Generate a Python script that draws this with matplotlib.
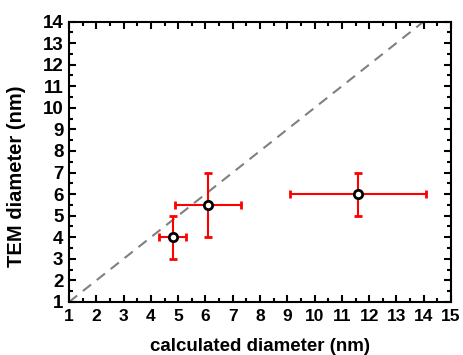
import numpy as np
import matplotlib
matplotlib.use('Agg')
import matplotlib.pyplot as plt
from matplotlib.ticker import MultipleLocator

plt.rcParams['font.family'] = ['Liberation Sans', 'DejaVu Sans']
plt.rcParams['font.weight'] = 'bold'

# calculated vs TEM diameters (nm)
calc_d = [4.8, 6.1, 11.6]
calc_err = [0.5, 1.2, 2.5]
tem_d = [4.0, 5.5, 6.0]
tem_err = [1.0, 1.5, 1.0]
ref_line = [1, 14]

fig = plt.figure(figsize=(4.63, 3.55), dpi=100)
ax = fig.add_axes([69/463, 1 - 302/355, (451-69)/463, (302-21.5)/355])

ax.plot(ref_line, ref_line, color='#808080', lw=1.5, dashes=(5, 3.5), zorder=1)
ax.errorbar(calc_d, tem_d, xerr=calc_err, yerr=tem_err, fmt='o',
            color='red', ecolor='red', elinewidth=1.5, capsize=3, capthick=1.5,
            mfc='white', mec='black', mew=2, ms=6, zorder=2)

ax.set_xlim(1, 15)
ax.set_ylim(1, 14)
ax.xaxis.set_major_locator(MultipleLocator(1))
ax.yaxis.set_major_locator(MultipleLocator(1))
ax.xaxis.set_minor_locator(MultipleLocator(0.5))
ax.yaxis.set_minor_locator(MultipleLocator(0.5))
ax.tick_params(which='both', direction='in', top=True, right=True, width=1.5)
ax.tick_params(which='major', length=5)
ax.tick_params(which='minor', length=3)
ax.tick_params(axis='x', which='major', pad=5, labelsize=12.5)
ax.tick_params(axis='y', which='major', pad=4, labelsize=13.5)
for s in ax.spines.values():
    s.set_linewidth(1.5)

ax.set_xlabel('calculated diameter (nm)', fontsize=13.5, fontweight='bold', va='center')
ax.xaxis.set_label_coords(0.5, -0.157)
ax.set_ylabel('TEM diameter (nm)', fontsize=14.5, fontweight='bold', va='center')
ax.yaxis.set_label_coords(-0.137, 0.45)

fig.savefig('out.png', dpi=100)
